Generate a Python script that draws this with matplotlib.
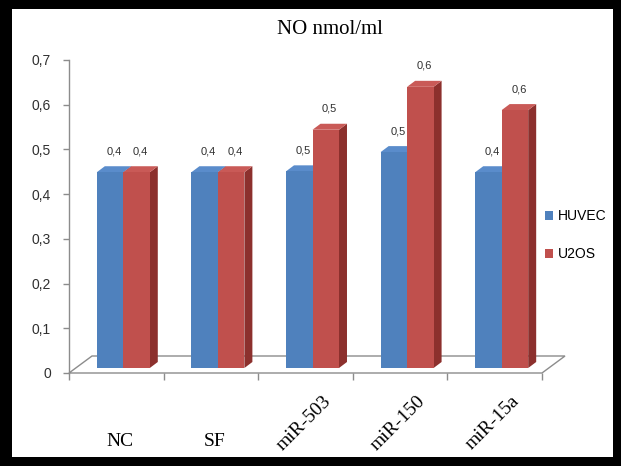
import matplotlib
matplotlib.use("Agg")
import matplotlib.pyplot as plt
from matplotlib.patches import Polygon, Rectangle, Patch

# ---- data ----
categories = ["NC", "SF", "miR-503", "miR-150", "miR-15a"]
series_names = ["HUVEC", "U2OS"]
huvec = [0.449, 0.449, 0.451, 0.494, 0.449]
u2os = [0.449, 0.449, 0.544, 0.64, 0.588]
y_ticks = [0.0, 0.1, 0.2, 0.3, 0.4, 0.5, 0.6, 0.7]
y_tick_labels = ["0", "0,1", "0,2", "0,3", "0,4", "0,5", "0,6", "0,7"]
rotated = [False, False, True, True, True]

# ---- colours ----
front_cols = ["#4F81BD", "#C0504D"]
top_cols = ["#5A8CCB", "#C95A57"]
side_cols = ["#3A6296", "#8C302D"]
grid_col = "#8C8C8C"

W, H = 621, 466
fig = plt.figure(figsize=(W / 100, H / 100), dpi=100)
fig.patch.set_facecolor("white")

# plot area: front edge of the floor is the category axis
ax_l, ax_b, ax_w, ax_h = 69, 93, 473, 313
ax = fig.add_axes([ax_l / W, ax_b / H, ax_w / W, ax_h / H])
n = len(categories)
ax.set_xlim(0, n)
ax.set_ylim(0, 0.7)
ax.patch.set_alpha(0)

ppx = ax_w / n        # pixels per category
ppy = ax_h / 0.7      # pixels per value unit


def to_data(dx_px, dy_px):
    return dx_px / ppx, dy_px / ppy


# floor (3-D depth drawn as an oblique parallelogram)
fdx, fdy = to_data(23, 17)
floor = Polygon([(0, 0), (n, 0), (n + fdx, fdy), (fdx, fdy)], closed=True,
                facecolor="white", edgecolor=grid_col, lw=1.0,
                clip_on=False, zorder=1)
ax.add_patch(floor)

# bars: front faces stand slightly behind the floor's front edge
bw = 0.28
offx, offy = to_data(7, 5)
bdx, bdy = to_data(8, 6)
for i in range(n):
    c = i + 0.5 + offx
    for s, vals in enumerate([huvec, u2os]):
        v = vals[i]
        x0 = c - bw if s == 0 else c
        x1 = x0 + bw
        z = 3 + s
        side = Polygon([(x1, offy), (x1 + bdx, offy + bdy),
                        (x1 + bdx, v + bdy), (x1, v)],
                       closed=True, facecolor=side_cols[s], edgecolor="none",
                       clip_on=False, zorder=z)
        top = Polygon([(x0, v), (x1, v), (x1 + bdx, v + bdy), (x0 + bdx, v + bdy)],
                      closed=True, facecolor=top_cols[s], edgecolor="none",
                      clip_on=False, zorder=z)
        ax.add_patch(side)
        ax.add_patch(top)
        ax.bar(x0, v - offy, width=bw, bottom=offy, align="edge",
               color=front_cols[s], edgecolor="none", zorder=z, clip_on=False)
        ax.annotate(f"{v:.1f}".replace(".", ","),
                    xy=(x0 + bw / 2 + bdx / 2, v + bdy),
                    xytext=(0, 15), textcoords="offset pixels",
                    ha="center", va="center", fontsize=8,
                    family="Liberation Sans", color="#303030", zorder=6)

# value axis
for sp in ["top", "right", "bottom"]:
    ax.spines[sp].set_visible(False)
ax.spines["left"].set_color(grid_col)
ax.spines["left"].set_linewidth(1.0)
ax.set_yticks(y_ticks)
ax.set_yticklabels(y_tick_labels, family="Liberation Sans", fontsize=10,
                   color="#303030")
ax.tick_params(axis="y", direction="out", length=4, width=1, color=grid_col,
               pad=9)

# category axis ticks sit on the floor's front edge
ax.set_xticks(range(n + 1))
ax.set_xticklabels([""] * (n + 1))
ax.tick_params(axis="x", direction="out", length=5, width=1, color=grid_col)

for i, lab in enumerate(categories):
    if rotated[i]:
        ax.annotate(lab, xy=(i + 0.5, 0), xytext=(-2, -50),
                    textcoords="offset pixels", rotation=45,
                    ha="center", va="center", fontsize=14,
                    family="Liberation Serif", color="black")
    else:
        ax.annotate(lab, xy=(i + 0.5, 0), xytext=(4, -69),
                    textcoords="offset pixels",
                    ha="center", va="center", fontsize=14,
                    family="Liberation Serif", color="black")

# title
fig.text(330 / W, 1 - 30 / H, "NO nmol/ml", ha="center", va="center",
         fontsize=15, family="Liberation Serif", color="black")

# legend
handles = [Patch(facecolor=front_cols[k], edgecolor="none")
           for k in range(2)]
fig.legend(handles, series_names, loc="upper left",
           bbox_to_anchor=(545 / W, 1 - 209 / H), frameon=False,
           prop={"family": "Liberation Sans", "size": 10},
           handlelength=0.6, handleheight=0.6, handletextpad=0.3,
           labelspacing=1.75, borderpad=0, borderaxespad=0)

# black frame around the chart
for (x, y, w, h) in [(0, H - 9, W, 9), (0, 0, 12, H), (W - 8, 0, 8, H),
                     (0, 0, W, 9)]:
    fig.add_artist(Rectangle((x / W, y / H), w / W, h / H,
                             transform=fig.transFigure, facecolor="black",
                             edgecolor="none", zorder=10))

fig.savefig("out.png", dpi=100, facecolor="white")
